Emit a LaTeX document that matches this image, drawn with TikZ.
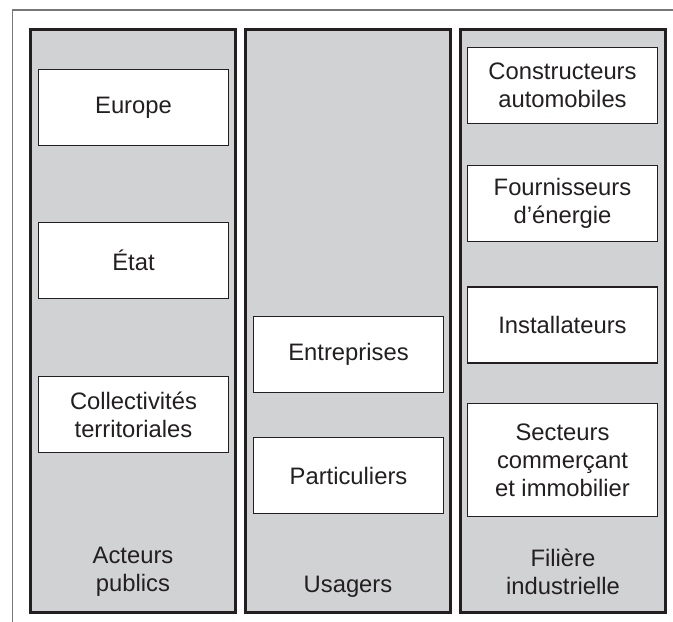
\documentclass[tikz,border=0pt]{standalone}
\usepackage{fontspec}
\setmainfont{Liberation Sans}
\definecolor{colgray}{RGB}{209,210,212}
\definecolor{ink}{RGB}{35,31,32}
\definecolor{framegray}{RGB}{120,120,120}
\begin{document}
\begin{tikzpicture}[x=1pt,y=-1pt,
  column/.style={draw=ink,line width=2.4pt,fill=colgray,minimum width=205pt,minimum height=583pt,inner sep=0pt},
  itembox/.style={draw=ink,line width=1.8pt,fill=white,minimum width=190pt,minimum height=76pt,inner sep=0pt,align=center,text=ink,font=\fontsize{23.8}{28}\selectfont},
  label/.style={align=center,text=ink,inner sep=0pt,font=\fontsize{23.8}{28}\selectfont}]
\useasboundingbox (0,0) rectangle (673,622);
\coordinate (ftl) at (12.5,10);
\coordinate (ftr) at (673,10);
\coordinate (fbl) at (12.5,622);
\draw[framegray,line width=1.4pt] (ftr) -- (ftl) -- (fbl);
% columns
\node[column] (c1) at (133,321) {};
\node[column] (c2) at (348,321) {};
\node[column] (c3) at (563,321) {};
% left column
\node[itembox] (europe) at (133.5,107.5) {Europe};
\node[itembox] (etat) at (133.5,260.5) {État};
\node[itembox] (coll) at (133.5,414.5) {Collectivités\\territoriales};
\node[label] (l1) at (133,572) {Acteurs\\publics};
% middle column
\node[itembox] (entr) at (348.5,354.5) {Entreprises};
\node[itembox] (part) at (348.5,475.5) {Particuliers};
\node[label] (l2) at (348,587) {Usagers};
% right column
\node[itembox] (constr) at (562.5,85.5) {Constructeurs\\automobiles};
\node[itembox] (fourn) at (562.5,203.5) {Fournisseurs\\d’énergie};
\node[itembox] (inst) at (562.5,325) {Installateurs};
\node[itembox,minimum height=113pt] (sect) at (562.5,460) {Secteurs\\commerçant\\et immobilier};
\node[label] (l3) at (563,572) {Filière\\industrielle};
\end{tikzpicture}
\end{document}
